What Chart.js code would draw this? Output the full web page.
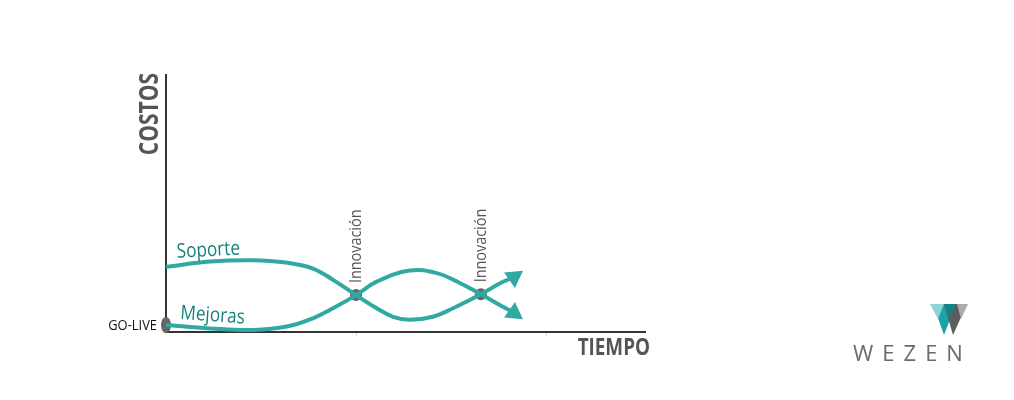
<!DOCTYPE html>
<html>
<head>
<meta charset="utf-8">
<script src="https://cdn.jsdelivr.net/npm/chart.js@4"></script>
<style>
  html, body { margin: 0; padding: 0; background: #fff; }
  #wrap { width: 1014px; height: 400px; position: relative; }
</style>
</head>
<body>
<div id="wrap"><canvas id="chart"></canvas></div>
<script>
/* Curve data (tiempo 0-100, costo 0-100) */
var soporteX = [0, 9.2, 18, 25, 30.6, 34.8, 39.6, 43.9, 47.3, 50.8, 55.6, 59.8, 65.6, 69.6, 72.5];
var soporteY = [25.3, 27.3, 27.8, 26.9, 24.6, 20.2, 14.3, 9.2, 5.9, 4.7, 5.9, 9.2, 14.6, 18.9, 21.3];
var mejorasX = [0, 9.2, 18.1, 25.2, 30.6, 34.8, 39.6, 43.9, 50.8, 56.4, 61.3, 65.6, 70.2, 72.5];
var mejorasY = [2.7, 1.4, 0.8, 2.1, 5.3, 9.2, 14.3, 19.5, 23.8, 22.8, 18.9, 14.6, 9.8, 7.4];

/* Innovation points where the curves cross */
var innovX = [39.6, 65.6];
var innovY = [14.3, 14.6];
var innovLabel = 'Innovación';

/* Go-live point */
var goLiveX = [0];
var goLiveY = [2.7];

/* Tick marks on the time axis */
var tiempoTicks = [39.6, 79.2];

var TEAL = '#31a9a3';
var TEAL_TEXT = '#17817d';
var GREY = '#555555';
var SANS = '"Open Sans", sans-serif';

function toPoints(xs, ys) {
  return xs.map(function(x, i) { return { x: x, y: ys[i] }; });
}

/* arrow head only on the last point of a series */
function lastOnly(n, val, other) {
  var arr = [];
  for (var i = 0; i < n; i++) arr.push(i === n - 1 ? val : other);
  return arr;
}

/* draws text squeezed horizontally to look like a condensed face */
function narrowText(ctx, text, x, y, squeeze, rot) {
  ctx.save();
  ctx.translate(x, y);
  if (rot) ctx.rotate(rot * Math.PI / 180);
  ctx.scale(squeeze, 1);
  ctx.fillText(text, 0, 0);
  ctx.restore();
}

/* elongated grey dot used for GO-LIVE */
var goLiveDot = document.createElement('canvas');
goLiveDot.width = 12; goLiveDot.height = 18;
(function() {
  var c = goLiveDot.getContext('2d');
  c.fillStyle = '#666';
  c.beginPath();
  c.ellipse(6, 9, 5, 8, 0, 0, Math.PI * 2);
  c.fill();
})();

var decor = {
  id: 'decor',
  beforeDatasetsDraw: function(chart) {
    var ctx = chart.ctx, a = chart.chartArea;
    var xs = chart.scales.x;
    ctx.save();
    /* faint ticks */
    ctx.strokeStyle = '#d6d6d6';
    ctx.lineWidth = 1;
    tiempoTicks.forEach(function(t) {
      var px = Math.round(xs.getPixelForValue(t)) + 0.5;
      ctx.beginPath();
      ctx.moveTo(px, a.bottom); ctx.lineTo(px, a.bottom + 4);
      ctx.stroke();
    });
    /* axes */
    ctx.strokeStyle = '#333';
    ctx.lineWidth = 2;
    ctx.beginPath();
    ctx.moveTo(a.left, a.top);
    ctx.lineTo(a.left, a.bottom);
    ctx.lineTo(a.right, a.bottom);
    ctx.stroke();
    ctx.restore();
  },
  afterDatasetsDraw: function(chart) {
    var ctx = chart.ctx, a = chart.chartArea;
    var xs = chart.scales.x, ys = chart.scales.y;
    ctx.save();

    /* axis titles */
    ctx.fillStyle = GREY;
    ctx.font = 'bold 27px ' + SANS;
    ctx.textAlign = 'center';
    ctx.textBaseline = 'middle';
    narrowText(ctx, 'COSTOS', a.left - 16, a.top + 40, 0.78, -90);

    ctx.font = 'bold 23px ' + SANS;
    ctx.textAlign = 'right';
    narrowText(ctx, 'TIEMPO', a.right + 4, a.bottom + 16, 0.82);

    /* GO-LIVE */
    ctx.fillStyle = '#111';
    ctx.font = '15px ' + SANS;
    ctx.textAlign = 'right';
    narrowText(ctx, 'GO-LIVE', xs.getPixelForValue(goLiveX[0]) - 9, ys.getPixelForValue(goLiveY[0]) + 1, 0.86);

    /* series labels */
    ctx.fillStyle = TEAL_TEXT;
    ctx.font = '20px ' + SANS;
    ctx.textAlign = 'left';
    ctx.textBaseline = 'alphabetic';
    narrowText(ctx, 'Soporte', xs.getPixelForValue(soporteX[0]) + 11, ys.getPixelForValue(soporteY[0]) - 9, 0.86, -3);
    narrowText(ctx, 'Mejoras', xs.getPixelForValue(mejorasX[0]) + 14, ys.getPixelForValue(mejorasY[0]) - 6, 0.86, 4);

    /* innovation labels */
    ctx.fillStyle = GREY;
    ctx.font = '16px ' + SANS;
    ctx.textBaseline = 'middle';
    innovX.forEach(function(x, i) {
      ctx.save();
      ctx.translate(xs.getPixelForValue(x) + 0.5, ys.getPixelForValue(innovY[i]) - 12);
      ctx.rotate(-Math.PI / 2);
      ctx.scale(0.9, 1);
      ctx.fillText(innovLabel, 0, 0);
      ctx.restore();
    });

    /* WEZEN logo */
    var lx = 930, ly = 304;
    function tri(c, p) {
      ctx.fillStyle = c;
      ctx.beginPath();
      ctx.moveTo(lx + p[0], ly + p[1]);
      ctx.lineTo(lx + p[2], ly + p[3]);
      ctx.lineTo(lx + p[4], ly + p[5]);
      ctx.closePath();
      ctx.fill();
    }
    tri('#1ba2a8', [3, 0, 26, 0, 14, 31]);
    tri('#8fd2d6', [0, 0, 14, 0, 8, 15]);
    tri('#5d5d5f', [14, 0, 37, 0, 23, 31]);
    tri('#aaabad', [27, 0, 38, 0, 31, 15]);
    tri('#13838a', [14, 0, 26, 0, 20, 14]);

    ctx.fillStyle = '#6a6a6a';
    ctx.font = '22px ' + SANS;
    ctx.textAlign = 'left';
    ctx.textBaseline = 'alphabetic';
    ctx.letterSpacing = '9px';
    ctx.fillText('WEZEN', 853, 361);
    ctx.restore();
  }
};

new Chart(document.getElementById('chart').getContext('2d'), {
  type: 'line',
  data: {
    datasets: [
      {
        label: 'Soporte',
        data: toPoints(soporteX, soporteY),
        borderColor: TEAL,
        backgroundColor: TEAL,
        borderWidth: 4,
        tension: 0.4,
        pointStyle: 'triangle',
        pointRadius: lastOnly(soporteX.length, 11, 0),
        pointRotation: 55,
        pointBorderWidth: 0,
        clip: false
      },
      {
        label: 'Mejoras',
        data: toPoints(mejorasX, mejorasY),
        borderColor: TEAL,
        backgroundColor: TEAL,
        borderWidth: 4,
        tension: 0.4,
        pointStyle: 'triangle',
        pointRadius: lastOnly(mejorasX.length, 11, 0),
        pointRotation: 125,
        pointBorderWidth: 0,
        clip: false
      },
      {
        label: 'Innovación',
        data: toPoints(innovX, innovY),
        showLine: false,
        pointRadius: 6,
        pointBackgroundColor: '#666',
        pointBorderWidth: 0,
        clip: false
      },
      {
        label: 'GO-LIVE',
        data: toPoints(goLiveX, goLiveY),
        showLine: false,
        pointStyle: goLiveDot,
        clip: false
      }
    ]
  },
  options: {
    responsive: true,
    maintainAspectRatio: false,
    animation: false,
    layout: { padding: { left: 166, top: 74, right: 368, bottom: 68 } },
    scales: {
      x: { type: 'linear', min: 0, max: 100, display: false },
      y: { type: 'linear', min: 0, max: 100, display: false }
    },
    plugins: {
      legend: { display: false },
      tooltip: { enabled: false }
    }
  },
  plugins: [decor]
});
</script>
</body>
</html>
